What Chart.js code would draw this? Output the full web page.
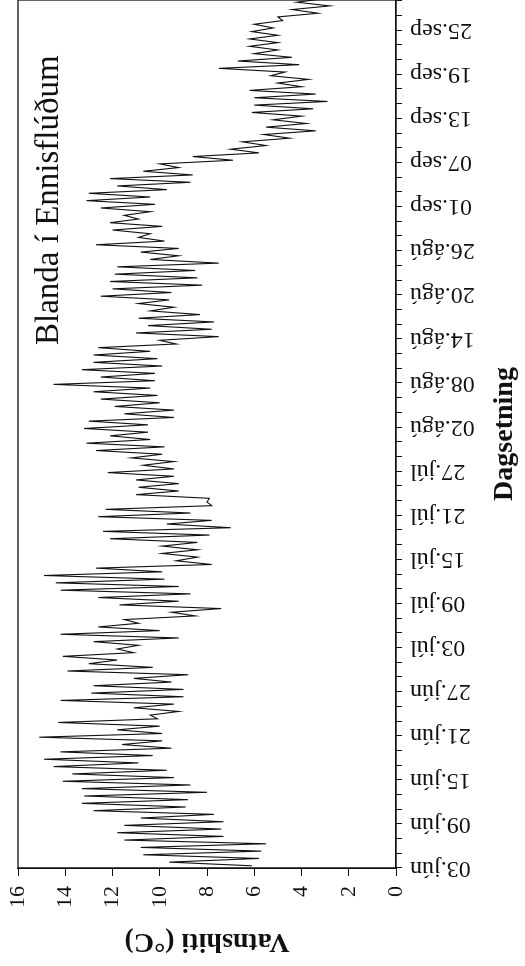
<!DOCTYPE html>
<html><head><meta charset="utf-8">
<script src="https://cdn.jsdelivr.net/npm/chart.js@4.4.1/dist/chart.umd.min.js"></script>
<style>
html,body{margin:0;padding:0;background:#fff;overflow:hidden;width:525px;height:966px;}
#wrap{position:absolute;left:0;top:0;width:966px;height:525px;transform-origin:0 0;transform:translate(0,966px) rotate(-90deg);}
</style></head><body>
<div id="wrap"><canvas id="c" width="966" height="525"></canvas></div>
<script>
const chartTitle = 'Blanda í Ennisflúðum';
const xTitle = 'Dagsetning';
const yTitle = 'Vatnshiti (°C)';
const dateLabels = ['03.jún','09.jún','15.jún','21.jún','27.jún','03.júl','09.júl','15.júl','21.júl','27.júl','02.ágú','08.ágú','14.ágú','20.ágú','26.ágú','01.sep','07.sep','13.sep','19.sep','25.sep'];
// daily minimum / maximum water temperature, day 0 = 03.jún
const dailyLow = [6.1,5.8,5.7,5.5,7.3,7.4,7.3,7.7,8.9,8.8,8.0,8.7,9.4,9.7,10.9,10.3,9.5,9.9,9.9,10.0,
  10.1,9.2,9.4,9.0,9.0,9.5,8.8,10.3,11.8,11.1,10.9,9.2,10.0,10.9,8.5,7.4,9.2,8.7,9.2,9.8,
  9.9,7.8,8.4,8.4,8.4,7.9,7.0,7.8,8.7,7.8,7.9,9.2,9.2,9.4,9.4,9.4,9.9,9.8,10.4,10.5,
  10.5,9.4,9.4,10.0,10.1,10.4,10.2,10.2,9.9,10.1,10.4,9.3,7.5,7.8,7.7,8.3,9.4,9.6,9.5,8.2,
  8.4,8.5,7.5,9.2,9.2,9.8,10.4,9.9,10.9,10.4,10.2,10.4,9.7,8.7,8.6,9.2,6.9,5.8,5.5,4.5,
  3.4,3.8,4.0,3.5,2.9,3.4,4.0,3.7,4.7,4.1,4.4,5.0,5.0,5.0,5.2,4.8,3.3,2.8,3.0];
const dailyHigh = [9.6,10.7,10.8,11.5,11.8,11.5,10.8,12.8,13.3,13.2,13.3,14.1,13.7,14.5,14.9,14.2,11.6,15.1,11.8,14.3,
  10.4,11.1,14.2,12.9,12.8,11.1,13.9,13.0,14.1,11.8,12.8,14.2,12.6,11.5,9.5,11.7,12.6,14.2,14.4,14.9,
  12.7,9.3,9.9,9.9,12.1,12.4,9.7,12.6,12.3,8.0,11.0,10.9,11.0,12.2,10.7,11.2,12.7,13.1,12.1,13.2,
  13.0,11.5,11.9,12.5,12.8,14.5,12.5,13.3,12.8,12.8,12.6,10.0,11.0,10.5,10.9,10.4,10.9,12.5,12.0,12.1,
  11.9,11.8,10.4,10.8,12.7,10.9,12.0,12.1,11.5,12.5,13.1,13.0,11.8,12.1,10.7,10.0,8.6,7.0,6.5,5.6,
  5.5,5.2,6.1,6.0,6.0,6.2,5.0,5.3,7.5,6.7,6.0,6.2,6.2,6.1,6.0,5.0,4.4,4.2];
// time of day (fraction) of the daily minimum and maximum
const lowTime = 0.3, highTime = 0.8;

const points = [];
dailyLow.forEach((lo, i) => {
  points.push({x: i + lowTime, y: lo});
  if (dailyHigh[i] !== undefined) points.push({x: i + highTime, y: dailyHigh[i]});
});

Chart.defaults.font.family = '"Liberation Serif","Times New Roman",serif';
Chart.defaults.color = '#111';

const framePlugin = {
  id: 'frame',
  afterDatasetsDraw(chart) {
    const {ctx, chartArea: a} = chart;
    ctx.save();
    ctx.strokeStyle = '#111';
    ctx.lineWidth = 1.3;
    ctx.strokeRect(a.left, a.top, a.right - a.left, a.bottom - a.top);
    ctx.fillStyle = '#111';
    ctx.font = '33px "Liberation Serif","Times New Roman",serif';
    ctx.textAlign = 'left';
    ctx.textBaseline = 'alphabetic';
    ctx.fillText(chartTitle, a.left + 523, a.top + 40);
    ctx.restore();
  }
};

new Chart(document.getElementById('c'), {
  type: 'line',
  data: {datasets: [{data: points, borderColor: '#111', borderWidth: 1.1, pointRadius: 0, tension: 0, fill: false}]},
  options: {
    responsive: false, animation: false, devicePixelRatio: 1,
    layout: {padding: {top: 18, left: 0, right: 0, bottom: 0}},
    plugins: {legend: {display: false}, tooltip: {enabled: false}},
    scales: {
      x: {
        type: 'linear', min: 0, max: 118.1,
        border: {display: true, color: '#111', width: 1.3},
        grid: {drawOnChartArea: false, drawTicks: true, tickLength: 6, color: '#111', tickWidth: 1},
        ticks: {stepSize: 2, autoSkip: false, includeBounds: false, maxRotation: 90, minRotation: 90, padding: 8,
          font: {size: 24}, callback: (v) => (v % 6 === 0 ? dateLabels[v / 6] : '')},
        title: {display: true, text: xTitle, font: {size: 28, weight: 'bold'}, padding: {top: 0, bottom: 3}},
        afterFit(s) { s.height = 129; s.paddingLeft = 0; s.paddingRight = 0; }
      },
      y: {
        min: 0, max: 16,
        border: {display: true, color: '#111', width: 1.3},
        grid: {drawOnChartArea: false, drawTicks: true, tickLength: 8, color: '#111', tickWidth: 1},
        ticks: {stepSize: 1, padding: 10, font: {size: 22}, callback: (v) => (v % 2 === 0 ? v : '')},
        title: {display: true, text: yTitle, font: {size: 28, weight: 'bold'}, padding: {top: 8, bottom: 0}},
        afterFit(s) { s.width = 98; s.paddingTop = 0; s.paddingBottom = 0; }
      }
    }
  },
  plugins: [framePlugin]
});
</script>
</body></html>
